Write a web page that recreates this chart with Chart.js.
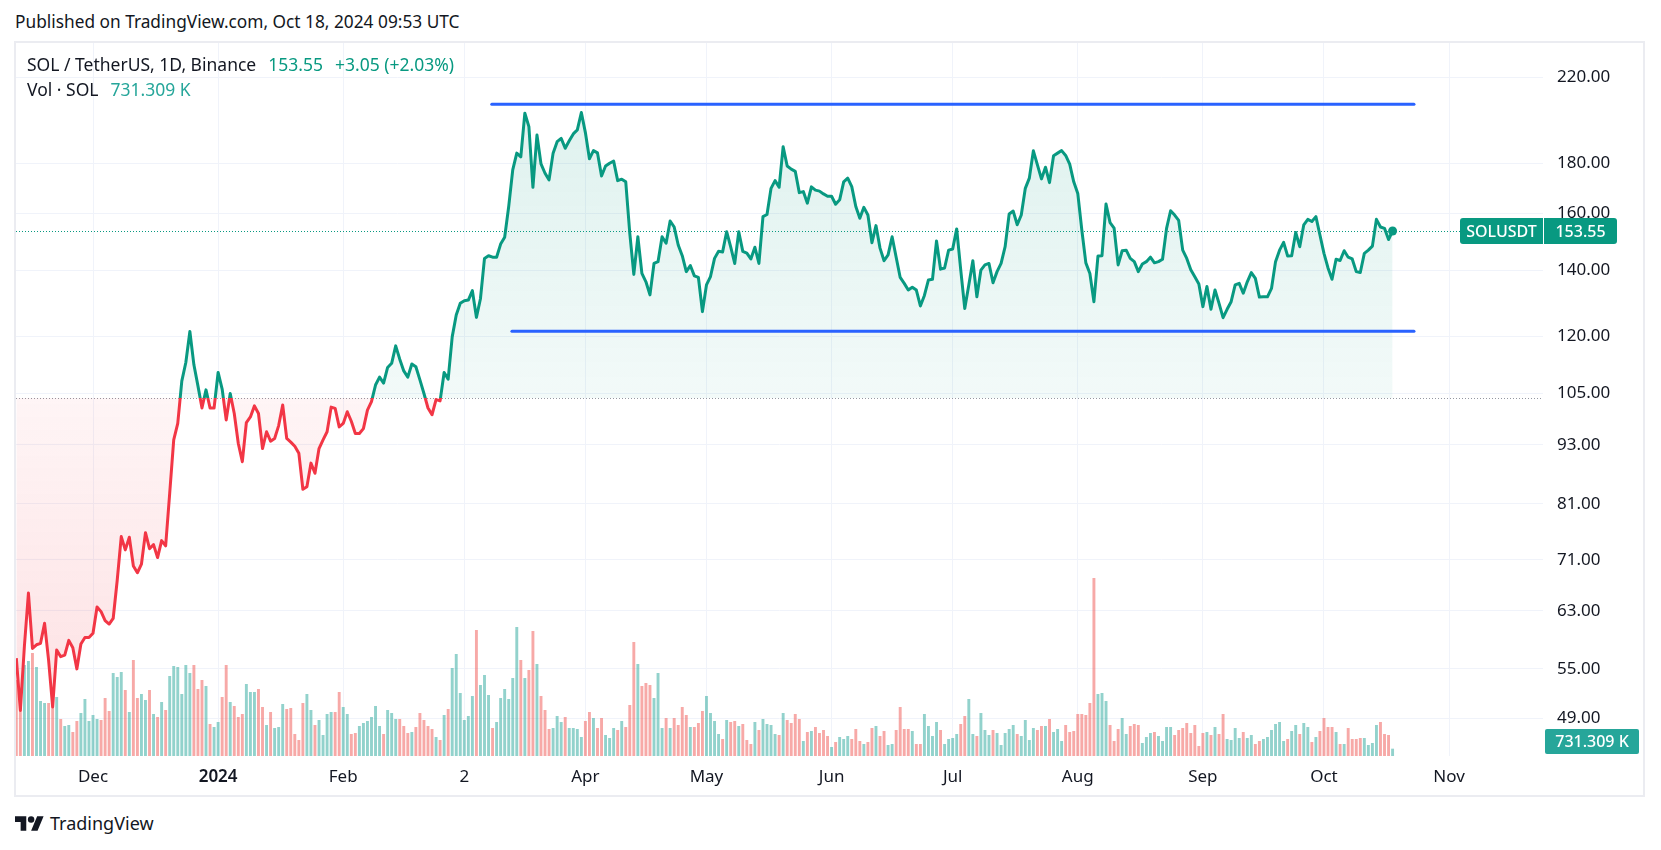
<!DOCTYPE html>
<html lang="en">
<head>
<meta charset="utf-8">
<title>SOL / TetherUS, 1D, Binance</title>
<script src="https://cdn.jsdelivr.net/npm/chart.js@4.4.1/dist/chart.umd.min.js"></script>
<style>
  html, body { margin: 0; padding: 0; background: #fff; }
  body {
    position: relative; width: 1661px; height: 850px; overflow: hidden;
    font-family: "Noto Sans", "DejaVu Sans", sans-serif; color: #131722;
  }
  #published { position: absolute; left: 15px; top: 11px; font-size: 17.3px; line-height: 22px; }
  #frame {
    position: absolute; left: 14px; top: 41px; width: 1627px; height: 752px;
    border: 2px solid #ebecf1;
  }
  #chartBox { position: absolute; left: 0; top: 0; width: 1627px; height: 752px; }
  .legend { position: absolute; left: 11px; font-size: 17.5px; line-height: 22px; white-space: nowrap; }
  #legend1 { top: 10px; }
  #legend2 { top: 35px; }
  .up { color: #089981; margin-left: 12px; }
  .vol { color: #26a69a; margin-left: 12px; }
  #footer { position: absolute; left: 15px; top: 811px; height: 24px; display: flex; align-items: center; }
  #footer span { font-size: 18px; margin-left: 6px; }
</style>
</head>
<body>
<div id="published">Published on TradingView.com, Oct 18, 2024 09:53 UTC</div>
<div id="frame">
  <div id="chartBox"><canvas id="solChart"></canvas></div>
  <div class="legend" id="legend1">SOL / TetherUS, 1D, Binance<span class="up" id="lastPrice"></span><span class="up" id="lastChange"></span></div>
  <div class="legend" id="legend2">Vol · SOL<span class="vol" id="lastVol"></span></div>
</div>
<div id="footer">
  <svg width="29" height="15" viewBox="0 4 36 18"><path d="M14 22H7V11H0V4h14v18zM28 22h-8l7.5-18h8L28 22z" fill="#131722"/><circle cx="20" cy="8" r="4" fill="#131722"/></svg>
  <span>TradingView</span>
</div>

<script>
// SOL/USDT daily closes, 12 Nov 2023 .. 18 Oct 2024 (day 0 = 1 Dec 2023)
const FIRST_DAY = -19;
const closes = [
  56.4, 49.9, 58.0, 65.7, 57.7, 58.2, 58.4, 61.2, 56.1, 50.3,
  57.5, 56.6, 56.8, 58.8, 57.8, 55.0, 58.3, 59.2, 59.2, 59.8,
  63.6, 62.9, 61.6, 61.1, 61.9, 67.7, 75.0, 72.7, 74.9, 70.0,
  68.9, 70.3, 75.7, 72.9, 73.6, 71.4, 74.3, 73.4, 83.0, 94.1,
  97.8, 108.0, 112.8, 121.3, 112.2, 106.8, 101.4, 105.8, 101.4, 101.4,
  110.2, 106.0, 98.6, 104.9, 100.1, 93.3, 89.4, 98.0, 99.3, 101.9,
  100.1, 92.2, 95.9, 93.8, 94.4, 97.3, 102.1, 94.4, 93.6, 92.7,
  91.2, 83.8, 84.3, 89.1, 87.0, 92.2, 94.1, 95.9, 101.6, 101.3,
  97.0, 97.8, 100.5, 98.3, 95.5, 95.5, 96.6, 100.9, 102.9, 107.0,
  109.0, 107.5, 111.5, 112.6, 117.3, 113.7, 110.6, 109.0, 112.4, 111.7,
  108.3, 104.9, 101.4, 99.8, 103.4, 103.1, 110.2, 108.5, 119.8, 126.1,
  129.6, 130.4, 130.6, 133.5, 125.4, 131.0, 144.0, 144.9, 144.4, 144.4,
  148.9, 151.3, 162.6, 177.2, 184.3, 182.7, 202.4, 196.1, 170.1, 192.3,
  179.7, 175.8, 173.1, 184.3, 189.3, 190.8, 186.4, 189.7, 192.8, 194.6,
  202.7, 193.4, 181.9, 185.4, 184.4, 174.7, 178.8, 180.0, 180.9, 172.8,
  173.4, 172.3, 152.7, 138.7, 151.5, 139.0, 136.3, 132.2, 142.3, 142.9,
  151.5, 149.2, 157.2, 155.0, 148.6, 144.9, 139.6, 141.6, 138.2, 137.7,
  127.1, 135.3, 138.0, 144.0, 146.4, 146.2, 153.3, 147.9, 142.3, 153.3,
  146.4, 145.8, 143.8, 147.8, 142.3, 158.8, 159.6, 169.7, 172.8, 170.1,
  187.1, 178.8, 177.5, 176.6, 168.0, 168.4, 163.9, 170.3, 169.0, 168.6,
  167.5, 166.6, 166.6, 163.5, 165.2, 172.3, 173.8, 170.4, 162.6, 158.2,
  162.3, 159.4, 149.4, 155.5, 147.5, 143.2, 145.2, 151.5, 144.4, 137.7,
  135.8, 133.7, 134.6, 133.7, 128.8, 132.0, 136.9, 137.1, 150.0, 140.4,
  140.8, 146.8, 147.2, 154.3, 140.2, 128.0, 135.3, 143.2, 131.6, 140.1,
  141.8, 142.3, 136.0, 139.6, 142.3, 148.0, 159.8, 160.9, 155.8, 159.4,
  169.7, 173.8, 185.3, 179.3, 173.5, 178.3, 172.0, 183.2, 184.3, 185.4,
  183.3, 179.6, 172.3, 167.7, 153.9, 142.5, 139.0, 130.1, 144.8, 144.9,
  163.6, 156.6, 154.6, 141.8, 146.6, 146.8, 144.0, 142.9, 139.6, 142.1,
  142.9, 144.4, 142.5, 142.9, 143.7, 154.5, 161.0, 159.4, 157.4, 146.8,
  144.0, 140.2, 137.9, 135.6, 128.6, 134.8, 127.8, 133.7, 129.6, 125.3,
  127.8, 130.1, 135.3, 135.8, 132.7, 136.3, 139.3, 137.4, 131.5, 131.6,
  131.6, 134.2, 142.9, 146.8, 149.5, 144.8, 144.9, 153.0, 148.0, 155.8,
  157.8, 157.0, 158.8, 152.1, 145.7, 140.8, 137.1, 143.7, 143.3, 146.6,
  144.4, 143.8, 139.6, 139.3, 145.7, 146.8, 148.2, 157.8, 155.0, 154.5,
  150.5, 153.55
];

// daily volume, millions of SOL
const volumes = [
  7.6, 5.8, 9.1, 9.5, 10.3, 8.9, 5.5, 5.3, 5.3, 5.8,
  5.9, 3.7, 3.0, 3.1, 2.4, 3.5, 4.3, 5.7, 3.5, 4.1,
  3.7, 3.6, 5.8, 4.5, 8.3, 7.9, 8.4, 6.6, 4.4, 9.6,
  5.8, 6.2, 5.6, 6.6, 4.2, 3.9, 5.4, 4.6, 8.0, 9.0,
  8.9, 6.2, 9.1, 8.3, 9.1, 6.7, 7.6, 7.0, 3.2, 2.9,
  3.4, 5.9, 9.1, 5.4, 5.0, 3.9, 4.2, 7.2, 6.4, 6.4,
  6.7, 4.9, 3.1, 4.4, 2.8, 2.9, 5.2, 4.7, 4.8, 2.2,
  1.6, 5.3, 6.2, 4.6, 3.1, 3.6, 2.1, 4.2, 4.4, 4.4,
  6.4, 4.9, 4.2, 2.2, 2.3, 3.0, 3.3, 3.5, 3.9, 5.0,
  3.0, 2.2, 4.6, 4.3, 3.7, 3.7, 3.0, 2.3, 2.4, 2.9,
  4.3, 3.6, 3.0, 2.7, 1.9, 1.6, 4.1, 4.7, 8.8, 10.2,
  6.3, 3.6, 4.0, 6.0, 12.6, 7.1, 8.1, 6.1, 2.8, 3.4,
  5.8, 6.7, 5.7, 7.8, 12.9, 9.6, 7.8, 8.6, 12.5, 9.2,
  6.0, 4.6, 2.7, 2.8, 4.0, 3.4, 3.9, 2.8, 2.8, 2.7,
  1.9, 3.5, 4.4, 3.8, 2.8, 3.8, 2.1, 1.8, 2.8, 2.6,
  3.5, 2.9, 5.1, 11.4, 9.2, 7.0, 7.3, 7.1, 5.8, 8.3,
  2.8, 3.8, 2.8, 3.8, 3.1, 4.9, 4.1, 2.9, 2.9, 3.3,
  4.5, 6.0, 4.3, 3.5, 2.2, 1.7, 3.6, 3.4, 3.5, 3.0,
  3.2, 1.6, 1.2, 3.4, 2.6, 3.7, 3.2, 3.1, 2.2, 2.1,
  4.3, 3.6, 3.3, 4.2, 3.7, 1.5, 2.4, 2.5, 2.9, 2.3,
  2.6, 2.0, 0.9, 1.4, 1.9, 1.7, 2.0, 1.7, 2.7, 1.5,
  1.2, 1.4, 2.8, 3.0, 2.0, 2.5, 1.1, 1.2, 2.6, 4.9,
  2.7, 2.7, 2.5, 1.2, 1.2, 4.2, 3.0, 2.0, 3.4, 2.6,
  1.2, 1.7, 1.8, 2.2, 3.2, 4.0, 5.7, 2.2, 2.0, 4.3,
  2.6, 2.1, 2.6, 2.3, 1.1, 2.3, 2.7, 3.1, 2.2, 2.0,
  3.6, 1.6, 2.8, 2.6, 3.0, 3.0, 3.7, 2.4, 2.7, 1.5,
  3.1, 2.4, 2.5, 4.2, 4.2, 4.1, 5.3, 17.8, 6.2, 6.3,
  5.5, 3.1, 1.5, 2.7, 3.8, 2.2, 3.0, 3.2, 3.1, 1.3,
  1.9, 2.3, 2.4, 2.0, 1.5, 2.9, 2.9, 2.1, 2.6, 2.8,
  3.3, 2.3, 3.1, 1.0, 2.3, 2.4, 2.1, 2.9, 2.2, 4.2,
  1.7, 1.6, 2.8, 1.8, 2.4, 1.8, 2.1, 1.2, 1.5, 1.7,
  1.9, 2.6, 3.2, 3.4, 1.5, 1.7, 2.5, 3.1, 2.2, 3.3,
  2.9, 1.4, 1.9, 2.5, 3.8, 2.9, 2.9, 2.4, 1.2, 1.2,
  2.8, 1.7, 1.7, 1.8, 1.8, 1.1, 1.3, 3.1, 3.4, 2.2,
  2.1, 0.731309
];

const monthTicks = [0, 31, 62, 92, 122, 152, 183, 213, 244, 275, 305, 336];
const monthLabels = ["Dec", "2024", "Feb", "2", "Apr", "May", "Jun", "Jul", "Aug", "Sep", "Oct", "Nov"];
const priceTicks = [49, 55, 63, 71, 81, 93, 105, 120, 140, 160, 180, 220];

// horizontal range lines drawn on the chart
const levelPrices = [206.7, 121.4];
const levelStarts = [98.8, 103.8];
const levelEnd = 327.3;

const BASELINE = 103.8;

// visible window
const X_MIN = -19.08, X_MAX = 359.27;
const Y_MIN = 44.84, Y_MAX = 238.6;
const VOL_MAX = 71.3;

const UP = "#089981";
const DOWN = "#f23645";
const GRID = "#f0f3fa";
const TEXT = "#131722";
const FONT = '"Noto Sans", "DejaVu Sans", sans-serif';

const days = closes.map((_, i) => FIRST_DAY + i);
const volColors = volumes.map((v, i) =>
  i > 0 && closes[i] >= closes[i - 1] ? "rgba(38,166,154,0.5)" : "rgba(239,83,80,0.5)"
);

// gradient split at the baseline price
function splitGradient(chart, top, aboveBase, belowBase, bottom) {
  const area = chart.chartArea;
  if (!area || !chart.scales.y) return top;
  const yb = chart.scales.y.getPixelForValue(BASELINE);
  const f = Math.min(1, Math.max(0, (yb - area.top) / (area.bottom - area.top)));
  const g = chart.ctx.createLinearGradient(0, area.top, 0, area.bottom);
  g.addColorStop(0, top);
  g.addColorStop(f, aboveBase);
  g.addColorStop(f, belowBase);
  g.addColorStop(1, bottom);
  return g;
}

const refLines = {
  id: "refLines",
  beforeDatasetsDraw(chart) {
    const { ctx, chartArea: a, scales } = chart;
    ctx.save();
    ctx.lineWidth = 1;
    ctx.setLineDash([1, 2]);
    [[BASELINE, "#9598a1"], [closes[closes.length - 1], UP]].forEach(([v, c]) => {
      const y = Math.round(scales.y.getPixelForValue(v)) + 0.5;
      ctx.strokeStyle = c;
      ctx.beginPath();
      ctx.moveTo(a.left, y);
      ctx.lineTo(a.right, y);
      ctx.stroke();
    });
    ctx.restore();
  }
};

function box(ctx, x, y, w, h, radii) {
  ctx.beginPath();
  if (ctx.roundRect) ctx.roundRect(x, y, w, h, radii);
  else ctx.rect(x, y, w, h);
  ctx.fill();
}

const lastValueTags = {
  id: "lastValueTags",
  afterDraw(chart) {
    const { ctx, chartArea: a, scales } = chart;
    const last = closes[closes.length - 1];
    const vol = volumes[volumes.length - 1];
    ctx.save();
    ctx.font = "500 16px " + FONT;
    ctx.textAlign = "center";
    ctx.textBaseline = "middle";

    const y = scales.y.getPixelForValue(last);
    ctx.fillStyle = UP;
    box(ctx, a.right - 83, y - 13, 83, 26, [3, 0, 0, 3]);
    box(ctx, a.right + 1, y - 13, 73, 26, [0, 3, 3, 0]);
    ctx.fillStyle = "#fff";
    ctx.fillText("SOLUSDT", a.right - 41.5, y + 1);
    ctx.fillText(last.toFixed(2), a.right + 37.5, y + 1);

    const yv = Math.min(scales.y2.getPixelForValue(vol), a.bottom - 14.5);
    ctx.fillStyle = "#26a69a";
    box(ctx, a.right + 2, yv - 12.5, 94, 25, 2);
    ctx.fillStyle = "#fff";
    ctx.fillText((vol * 1000).toFixed(3) + " K", a.right + 49, yv + 1);
    ctx.restore();
  }
};

const datasets = [
  {
    type: "line",
    data: closes,
    yAxisID: "y",
    borderWidth: 3,
    borderJoinStyle: "round",
    borderColor: c => splitGradient(c.chart, UP, UP, DOWN, DOWN),
    backgroundColor: c => splitGradient(c.chart,
      "rgba(8,153,129,0.15)", "rgba(8,153,129,0.05)",
      "rgba(242,54,69,0.05)", "rgba(242,54,69,0.16)"),
    fill: { target: { value: BASELINE } },
    pointRadius: c => (c.dataIndex === closes.length - 1 ? 4.5 : 0),
    pointBackgroundColor: UP,
    pointBorderWidth: 0,
    tension: 0,
    order: 1
  },
  {
    type: "bar",
    data: volumes,
    yAxisID: "y2",
    backgroundColor: volColors,
    barPercentage: 0.72,
    categoryPercentage: 1,
    order: 3
  }
];

levelPrices.forEach((p, i) => {
  datasets.push({
    type: "line",
    data: [{ x: levelStarts[i], y: p }, { x: levelEnd, y: p }],
    yAxisID: "y",
    borderColor: "#2962ff",
    borderWidth: 3,
    borderCapStyle: "round",
    pointRadius: 0,
    fill: false,
    order: 0
  });
});

new Chart(document.getElementById("solChart"), {
  type: "line",
  data: { labels: days, datasets },
  options: {
    responsive: true,
    maintainAspectRatio: false,
    animation: false,
    events: [],
    layout: { padding: 0, autoPadding: false },
    plugins: { legend: { display: false }, tooltip: { enabled: false } },
    scales: {
      x: {
        type: "linear",
        bounds: "data",
        min: X_MIN,
        max: X_MAX,
        offset: false,
        afterBuildTicks: s => {
          s.ticks = monthTicks.map(v => ({ value: v }));
          s.min = X_MIN;
          s.max = X_MAX;
        },
        afterFit: s => { s.height = 39; s.paddingLeft = 0; s.paddingRight = 0; },
        grid: { color: GRID, drawTicks: false, offset: false },
        border: { display: false },
        ticks: {
          autoSkip: false,
          maxRotation: 0,
          padding: 11,
          color: TEXT,
          font: c => ({ family: FONT, size: 17, weight: c.index === 1 ? "600" : "normal" }),
          callback: (v, i) => monthLabels[i]
        }
      },
      y: {
        type: "logarithmic",
        position: "right",
        bounds: "data",
        min: Y_MIN,
        max: Y_MAX,
        afterBuildTicks: s => {
          s.ticks = priceTicks.map(v => ({ value: v }));
          s.min = Y_MIN;
          s.max = Y_MAX;
        },
        // the axis labels stay inside the plot height, no extra top/bottom room
        afterFit: s => { s.width = 100; s.paddingTop = 0; s.paddingBottom = 0; },
        grid: { color: GRID, drawTicks: false },
        border: { display: false },
        ticks: {
          padding: 14,
          color: TEXT,
          font: { family: FONT, size: 17 },
          callback: v => Number(v).toFixed(2)
        }
      },
      y2: { type: "linear", display: false, min: 0, max: VOL_MAX, grid: { display: false } }
    }
  },
  plugins: [refLines, lastValueTags]
});

// legend values
const last = closes[closes.length - 1];
const prev = closes[closes.length - 2];
const chg = last - prev;
const sign = chg >= 0 ? "+" : "";
document.getElementById("lastPrice").textContent = last.toFixed(2);
document.getElementById("lastChange").textContent =
  sign + chg.toFixed(2) + " (" + sign + (chg / prev * 100).toFixed(2) + "%)";
document.getElementById("lastVol").textContent = (volumes[volumes.length - 1] * 1000).toFixed(3) + " K";
</script>
</body>
</html>
